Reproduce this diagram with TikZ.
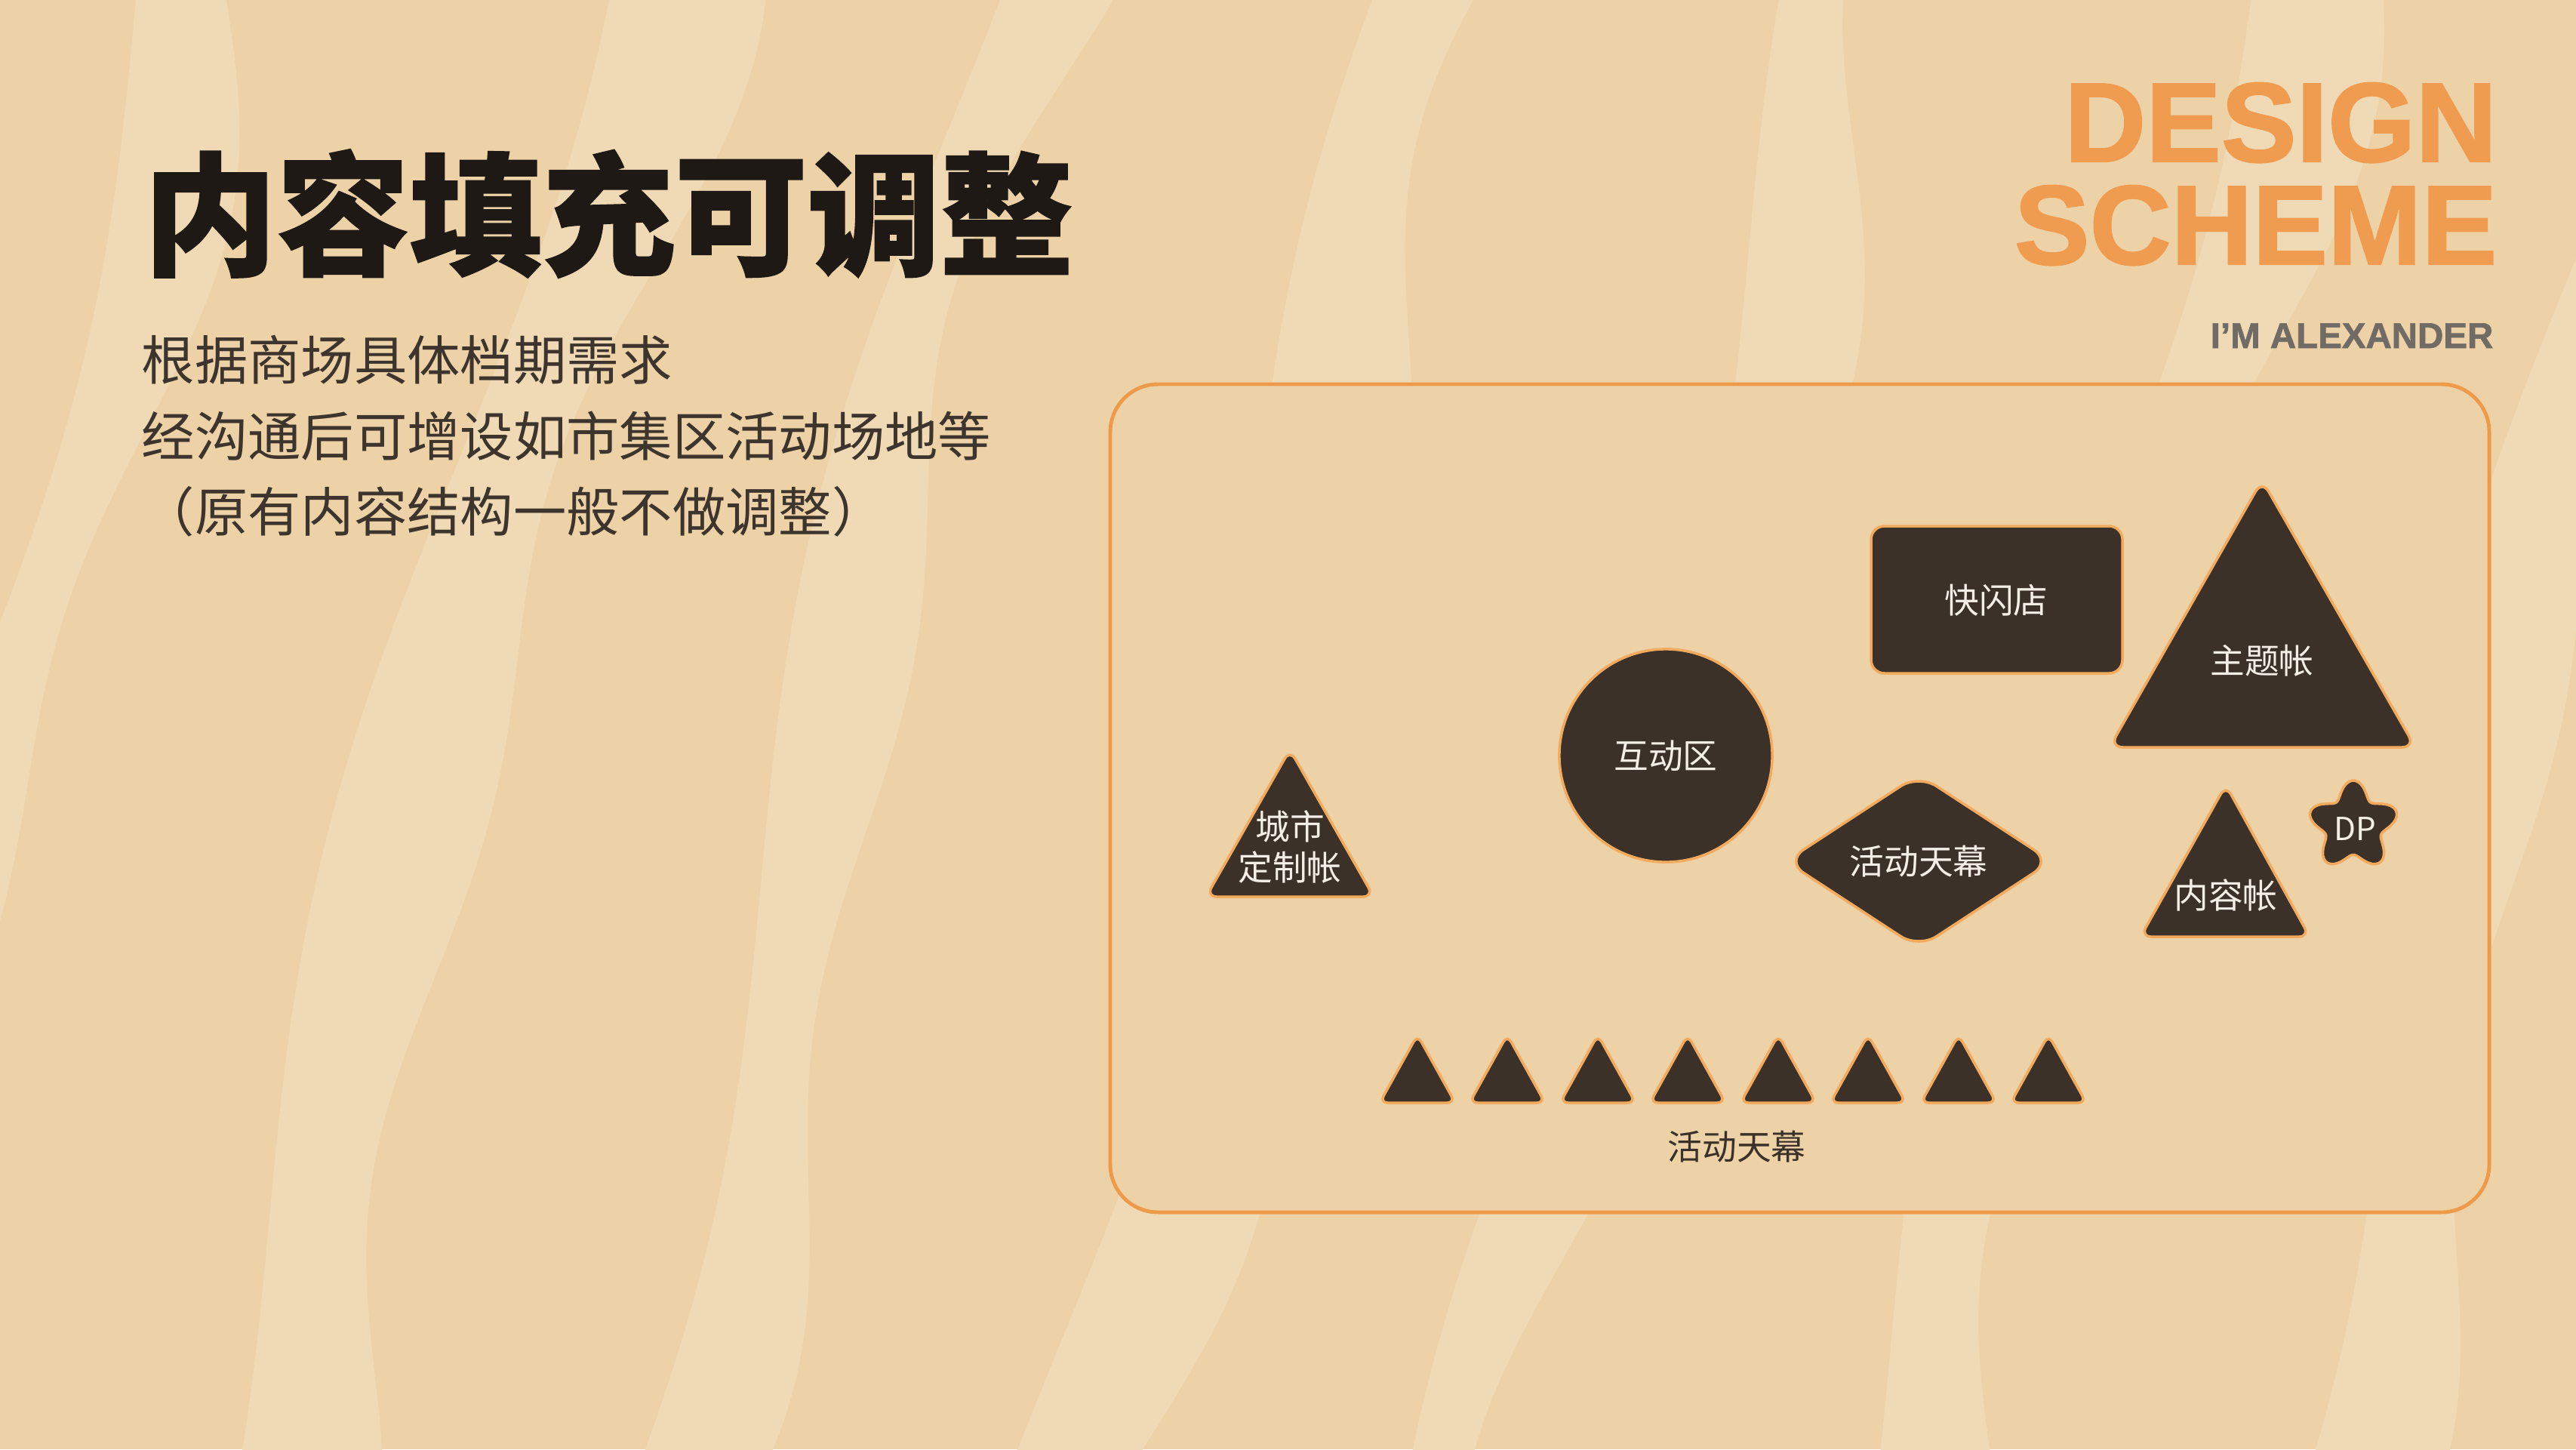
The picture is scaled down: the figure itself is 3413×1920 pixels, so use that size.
\documentclass[tikz,border=0pt]{standalone}
\usepackage{fontspec}
\setmainfont{Liberation Sans}[BoldFeatures={FakeBold=1.5}]
\newfontfamily\cjk{Noto Sans CJK SC}[BoldFeatures={FakeBold=1.2}]
\definecolor{bgbase}{HTML}{EDD2A8}
\definecolor{bglight}{HTML}{F0DAB5}
\definecolor{tentfill}{HTML}{3B3128}
\definecolor{glow}{HTML}{F2AA5F}
\definecolor{frameorange}{HTML}{EE9A4B}
\definecolor{schemeorange}{HTML}{EF9C50}
\definecolor{inkdark}{HTML}{1F1915}
\definecolor{inkgray}{HTML}{3D342D}
\definecolor{namegray}{HTML}{716B66}
\definecolor{labelwhite}{HTML}{F4EEE6}
\newcommand{\zebra}[3]{%
  \fill[bglight] plot[domain=-60:1980,samples=40,smooth,variable=\t]
    ({#1-0.25*\t+50*sin(0.18*\t+#3)},{\t})
    -- plot[domain=1980:-60,samples=40,smooth,variable=\t]
    ({#1+#2-0.25*\t+50*sin(0.18*\t+#3)+40*sin(0.35*\t+#3)},{\t}) -- cycle;}

\begin{document}
\begin{tikzpicture}[x=0.01cm,y=-0.01cm,
    tentshape/.style={fill=tentfill,draw=glow,line width=1pt,rounded corners=3pt},
    onshape/.style={text=labelwhite,inner sep=0pt,align=center,
      font=\cjk\fontsize{13}{15.4}\selectfont}]
     % background with light stripes
     \fill[bgbase] (0,0) rectangle (3413,1920);
     \useasboundingbox (0,0) rectangle (3413,1920);
     \begin{scope}
      \clip (0,0) rectangle (3413,1920);
      \zebra{180}{120}{0}
      \zebra{760}{170}{70}
      \zebra{1300}{130}{150}
      \zebra{1850}{160}{220}
      \zebra{2400}{120}{300}
      \zebra{2950}{150}{40}
      \zebra{3500}{140}{120}
     \end{scope}
     % headings
     \node[anchor=west,inner sep=0pt,text=inkdark,
      font=\cjk\bfseries\fontsize{50}{50}\selectfont] (title) at (190,283) {内容填充可调整};
     \node[anchor=north west,inner sep=0pt,align=left,text=inkgray,
      font=\cjk\fontsize{20}{28.7}\selectfont] (intro) at (187,443)
      {根据商场具体档期需求\\经沟通后可增设如市集区活动场地等\\（原有内容结构一般不做调整）};
     \node[anchor=base east,inner sep=0pt,text=schemeorange,
      font=\bfseries\fontsize{42.5}{42.5}\selectfont] (design) at (3309,214) {DESIGN};
     \node[anchor=base east,inner sep=0pt,text=schemeorange,
      font=\bfseries\fontsize{42.5}{42.5}\selectfont] (scheme) at (3309,350) {SCHEME};
     \node[anchor=base east,inner sep=0pt,text=namegray,
      font=\bfseries\fontsize{13.5}{13.5}\selectfont] (author) at (3304,461) {I'M ALEXANDER};
     % site frame
     \draw[frameorange,line width=1.4pt,fill=bgbase,rounded corners=18pt]
      (1471,509) rectangle (3298,1606);
     % tents and zones
     \draw[tentshape,rounded corners=5pt] (2479,697) rectangle (2812,892);
     \node[onshape] (popup) at (2645,795) {快闪店};
     \draw[tentshape,rounded corners=5pt] (2997,636) -- (3200,990) -- (2795,990) -- cycle;
     \node[onshape] (theme) at (2997,875) {主题帐};
     \draw[tentshape] (2207,1001) circle[radius=1.41cm];
     \node[onshape] (interact) at (2207,1001) {互动区};
     \draw[tentshape,rounded corners=4pt] (1709,993) -- (1820,1188) -- (1598,1188) -- cycle;
     \node[onshape] (city) at (1709,1122) {城市\\定制帐};
     \draw[tentshape,rounded corners=8pt] (2366,1141) -- (2542,1026) -- (2718,1141) -- (2542,1256) -- cycle;
     \node[onshape] (canopy) at (2542,1141) {活动天幕};
     \draw[tentshape,rounded corners=4pt] (2949,1040) -- (3060,1241) -- (2836,1241) -- cycle;
     \node[onshape] (content) at (2949,1186) {内容帐};
     \draw[tentshape,sharp corners] plot[domain=0:360,samples=91,variable=\a]
      ({3118+60*(0.82+0.18*cos(5*(\a-90)))*cos(\a)},{1094-60*(0.82+0.18*cos(5*(\a-90)))*sin(\a)}) -- cycle;
     \node[onshape,font=\cjk\fontsize{12}{12}\selectfont] (dp) at (3120,1098) {DP};
     % row of small canopies
     \draw[tentshape] (1878,1371) -- (1928,1461) -- (1828,1461) -- cycle;
     \draw[tentshape] (1997,1371) -- (2047,1461) -- (1947,1461) -- cycle;
     \draw[tentshape] (2117,1371) -- (2167,1461) -- (2067,1461) -- cycle;
     \draw[tentshape] (2236,1371) -- (2286,1461) -- (2186,1461) -- cycle;
     \draw[tentshape] (2356,1371) -- (2406,1461) -- (2306,1461) -- cycle;
     \draw[tentshape] (2475,1371) -- (2525,1461) -- (2425,1461) -- cycle;
     \draw[tentshape] (2595,1371) -- (2645,1461) -- (2545,1461) -- cycle;
     \draw[tentshape] (2714,1371) -- (2764,1461) -- (2664,1461) -- cycle;
     \node[text=tentfill,font=\cjk\fontsize{13}{13}\selectfont] (rowlabel) at (2301,1519) {活动天幕};
    \end{tikzpicture}
\end{document}
